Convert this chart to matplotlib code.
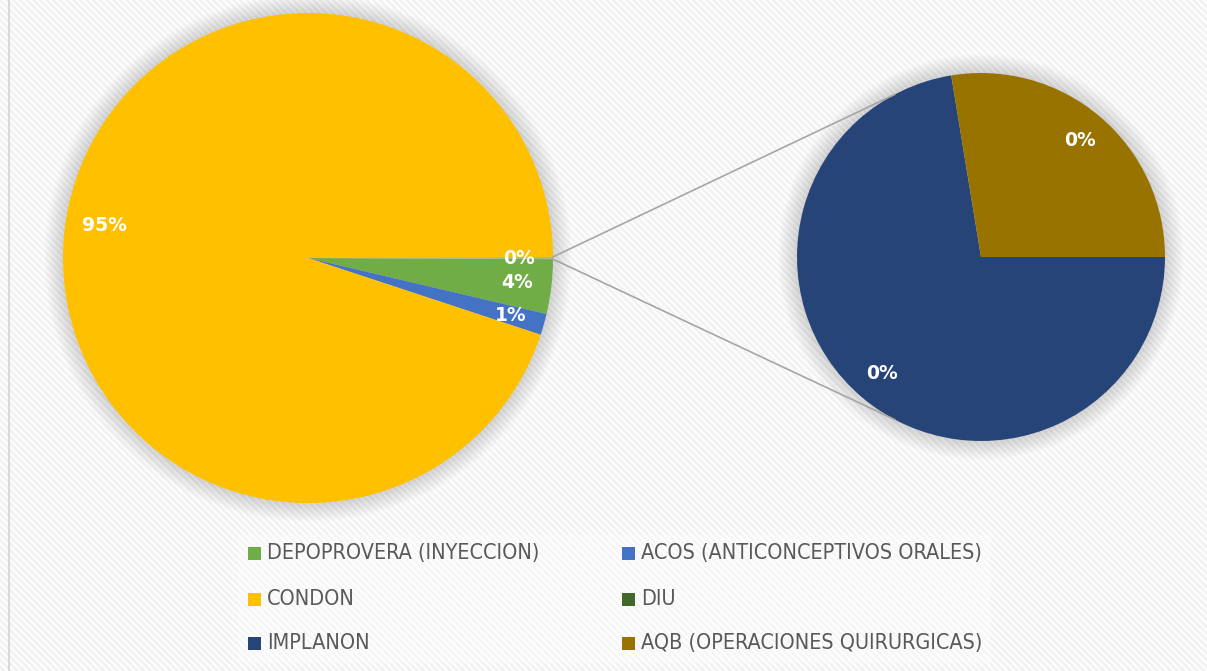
"""Pie-of-pie: contraceptive method shares, Excel style."""
import matplotlib
matplotlib.use("Agg")

import matplotlib.pyplot as plt
import numpy as np
from matplotlib.patches import Circle, Rectangle

# Legend order as in the workbook
METHODS = ["DEPOPROVERA (INYECCION)", "ACOS (ANTICONCEPTIVOS ORALES)", "CONDON",
           "DIU", "IMPLANON", "AQB (OPERACIONES QUIRURGICAS)"]
SHARE = [3.6, 1.4, 94.855, 0.0, 0.105, 0.04]      # % of total
COLOURS = ["#70ad47", "#4472c4", "#ffc000", "#43682b", "#264478", "#997300"]
MAIN = ["DEPOPROVERA (INYECCION)", "ACOS (ANTICONCEPTIVOS ORALES)", "CONDON"]
SPLIT = ["DIU", "IMPLANON", "AQB (OPERACIONES QUIRURGICAS)"]
OTHER_COLOUR = "#b8b77a"

W, H = 1207, 671
MAIN_C, MAIN_R = (308, H - 258), 245
SUB_C, SUB_R = (981, H - 257), 184
LINE_GREY = "#a6a6a6"
LEGEND_GREY = "#595959"

plt.rcParams["hatch.linewidth"] = 2.0

fig = plt.figure(figsize=(W / 100, H / 100), dpi=100)
ax = fig.add_axes([0, 0, 1, 1])
ax.set_xlim(0, W)
ax.set_ylim(0, H)
ax.set_aspect("equal")
ax.axis("off")

# striped chart-area background and the left border
ax.add_patch(Rectangle((0, 0), W, H, facecolor="white", edgecolor="#f2f2f2",
                       hatch="\\\\\\\\\\", lw=0, zorder=0))
ax.plot([8.5, 8.5], [0, H], color="#d9d9d9", lw=1.5, zorder=1)


def shadow(centre, r):
    for k in range(1, 20):
        ax.add_patch(Circle(centre, r + k, facecolor="0.5", alpha=0.015,
                            lw=0, zorder=1))


share = dict(zip(METHODS, SHARE))
colour = dict(zip(METHODS, COLOURS))

# main pie: the three big slices plus the "other" slice facing right
main_vals = [share[m] for m in MAIN]
other = sum(share[m] for m in SPLIT)
total = sum(main_vals) + other
shadow(MAIN_C, MAIN_R)
start = -other / total * 360 / 2
wedges, _ = ax.pie(main_vals + [other], colors=[colour[m] for m in MAIN] + [OTHER_COLOUR],
                   startangle=start, counterclock=False, center=MAIN_C,
                   radius=MAIN_R, frame=True, wedgeprops=dict(lw=0, zorder=2))
for w, v in zip(wedges, main_vals + [other]):
    mid = np.deg2rad((w.theta1 + w.theta2) / 2)
    rr = 0.84 * MAIN_R if v > 50 else 0.86 * MAIN_R
    ax.text(MAIN_C[0] + rr * np.cos(mid), MAIN_C[1] + rr * np.sin(mid),
            f"{v / total * 100:.0f}%", color="white", fontsize=13.5,
            fontweight="bold", ha="center", va="center", zorder=5)

# secondary pie: the split-off methods (zero shares are not drawn)
sub = [m for m in SPLIT if share[m] > 0]
sub_vals = [share[m] for m in sub]
shadow(SUB_C, SUB_R)
sw, _ = ax.pie(sub_vals, colors=[colour[m] for m in sub],
               startangle=sub_vals[1] / sum(sub_vals) * 360, counterclock=True,
               center=SUB_C, radius=SUB_R, frame=True,
               wedgeprops=dict(lw=0, zorder=2))
for w, v in zip(sw, sub_vals):
    mid = np.deg2rad((w.theta1 + w.theta2) / 2)
    rr = 0.83 * SUB_R
    ax.text(SUB_C[0] + rr * np.cos(mid), SUB_C[1] + rr * np.sin(mid),
            f"{v / total * 100:.0f}%", color="white", fontsize=13.5,
            fontweight="bold", ha="center", va="center", zorder=5)

# connector lines from the "other" slice to the secondary pie
half = np.deg2rad(other / total * 360 / 2)
for sgn in (1, -1):
    x0 = MAIN_C[0] + MAIN_R * np.cos(half)
    y0 = MAIN_C[1] + sgn * MAIN_R * np.sin(half)
    a = np.deg2rad(sgn * 118)
    ax.plot([x0, SUB_C[0] + SUB_R * np.cos(a)], [y0, SUB_C[1] + SUB_R * np.sin(a)],
            color=LINE_GREY, lw=1.2, zorder=3)

ax.set_xlim(0, W)
ax.set_ylim(0, H)
ax.set_xticks([])
ax.set_yticks([])
for s in ax.spines.values():
    s.set_visible(False)

# legend, two columns
ax.add_patch(Rectangle((238, H - 663), 752, 128, facecolor="white", alpha=0.35,
                       lw=0, zorder=1))
col_x = [248, 622]
row_y = [553, 599, 643]
for i, m in enumerate(METHODS):
    x, y = col_x[i % 2], H - row_y[i // 2]
    ax.add_patch(Rectangle((x, y - 6.5), 13, 13, facecolor=colour[m], lw=0, zorder=4))
    ax.text(x + 19, y, m, fontsize=15.5, color=LEGEND_GREY, va="center", ha="left",
            family="DejaVu Sans", fontstretch="condensed", zorder=4)

fig.savefig("out.png", dpi=100, facecolor="white")
